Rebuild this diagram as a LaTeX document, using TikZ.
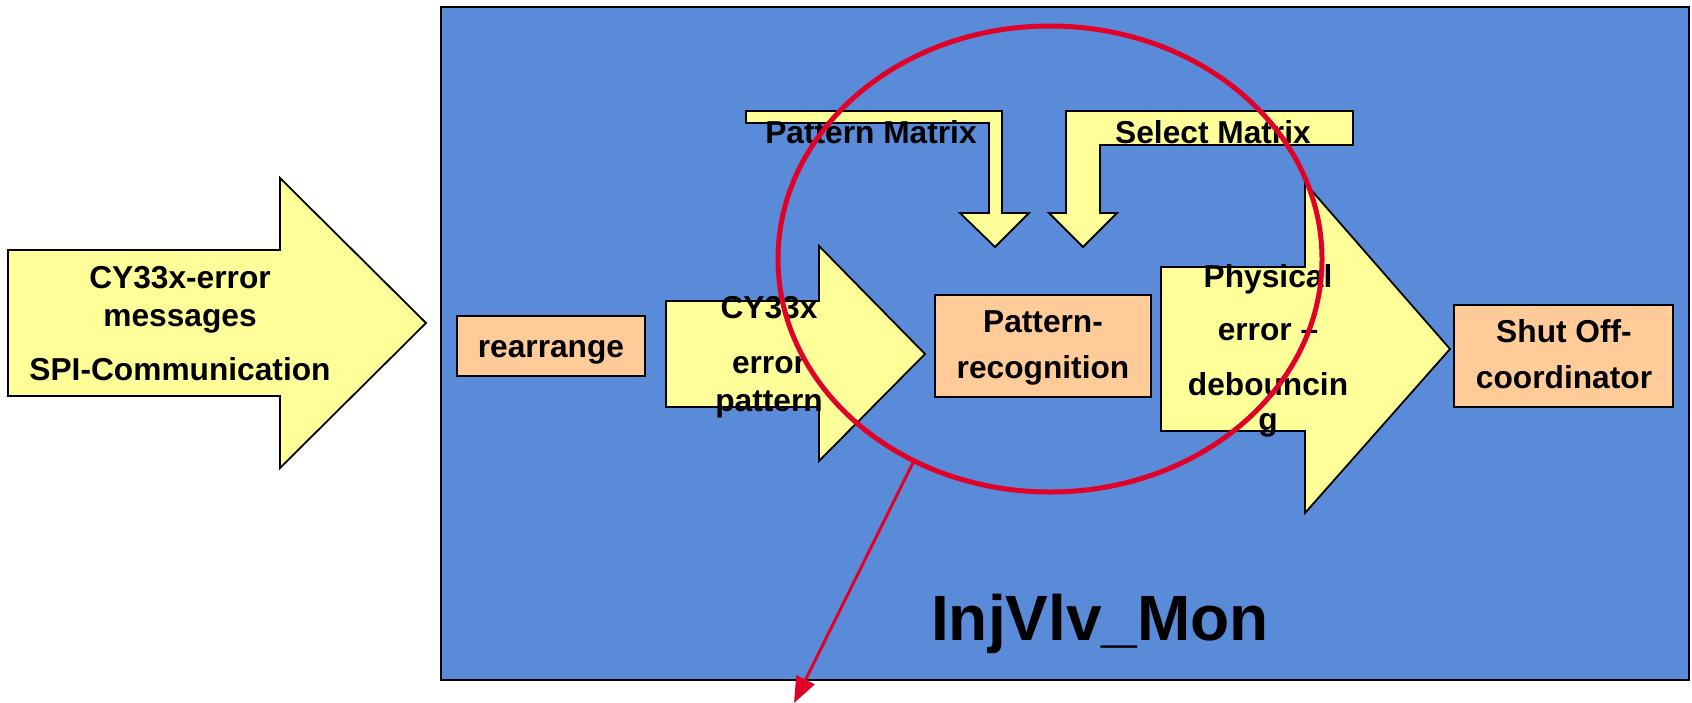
\documentclass[tikz,border=0pt]{standalone}
\usepackage{fontspec}
\setmainfont{Liberation Sans}
\usetikzlibrary{shapes.geometric,arrows.meta}
\definecolor{panelblue}{RGB}{90,139,216}
\definecolor{arrowyellow}{RGB}{255,255,153}
\definecolor{boxpeach}{RGB}{255,204,153}
\definecolor{markred}{RGB}{225,0,40}
\begin{document}
\begin{tikzpicture}[x=0.5pt,y=-0.5pt,
  yarrow/.style={draw=black,line width=0.9pt,fill=arrowyellow,line join=miter},
  pbox/.style={draw=black,line width=0.9pt,fill=boxpeach,inner sep=0pt,outer sep=0pt},
  lblm/.style={font=\fontsize{15.85}{19}\selectfont\bfseries,inner sep=0pt,align=center,anchor=north},
  lbls/.style={font=\fontsize{15.85}{19}\selectfont\bfseries,inner sep=0pt,anchor=base},
]
\useasboundingbox (0,0) rectangle (1692,702);
\fill[white] (0,0) rectangle (1692,702);

% main panel
\node[draw=black,line width=1pt,fill=panelblue,inner sep=0pt,outer sep=0pt,
      minimum width=624pt,minimum height=336.5pt] (panel) at (1065,343.5) {};

% input arrow
\draw[yarrow] (8,250) -- (280,250) -- (280,178) -- (426,323) -- (280,468) -- (280,396) -- (8,396) -- cycle;
\node[lblm] (inlbl) at (180,261.4)
  {\strut CY33x-error\\\strut messages\\[8pt]\strut SPI-Communication};

% boxes
\node[pbox,minimum width=94pt,minimum height=30pt] (rearr) at (551,346) {};
\node[lbls] (rearrlbl) at (551,357) {rearrange};

\draw[yarrow] (666,301) -- (819,301) -- (819,246) -- (925,354) -- (819,461) -- (819,407) -- (666,407) -- cycle;
\node[lblm] (cylbl) at (769,291.4) {\strut CY33x\\[8.5pt]\strut error\\\strut pattern};

\node[pbox,minimum width=108pt,minimum height=51pt] (patrec) at (1043,346) {};
\node[lblm] (patreclbl) at (1043,305.4) {\strut Pattern-\\[4pt]\strut recognition};

\draw[yarrow] (1161,267) -- (1305,267) -- (1305,183) -- (1450,349) -- (1305,513) -- (1305,431) -- (1161,431) -- cycle;
\node[lblm] (phylbl) at (1268,260.4)
  {\strut Physical\\[7.5pt]\strut error –\\[8.5pt]\strut debouncin\\[-1.5pt]\strut g};

\node[pbox,minimum width=109.5pt,minimum height=51pt] (shut) at (1563.5,356) {};
\node[lblm] (shutlbl) at (1564,315.4) {\strut Shut Off-\\[4pt]\strut coordinator};

% matrix input arrows
\draw[yarrow] (746,111) -- (1002,111) -- (1002,213) -- (1029,213) -- (995,247) -- (960,213) -- (989,213) -- (989,123) -- (746,123) -- cycle;
\node[lbls] (pmlbl) at (871,143) {Pattern Matrix};

\draw[yarrow] (1353,111) -- (1066,111) -- (1066,213) -- (1049,213) -- (1083,247) -- (1117,213) -- (1100,213) -- (1100,145) -- (1353,145) -- cycle;
\node[lbls] (smlbl) at (1213,143) {Select Matrix};

% module name
\node[font=\fontsize{32}{38}\selectfont\bfseries,inner sep=0pt,anchor=base] (modname) at (1100,640) {InjVlv\_Mon};

% red highlight
\node[draw=markred,line width=2.5pt,ellipse,inner sep=0pt,outer sep=0pt,
      minimum width=272pt,minimum height=233pt] (ring) at (1050,259) {};
\coordinate (redtip) at (794,703);
\draw[markred,line width=1.5pt,-{Triangle[length=13pt,width=10pt]}] (ring.236.8) -- (redtip);
\end{tikzpicture}
\end{document}
